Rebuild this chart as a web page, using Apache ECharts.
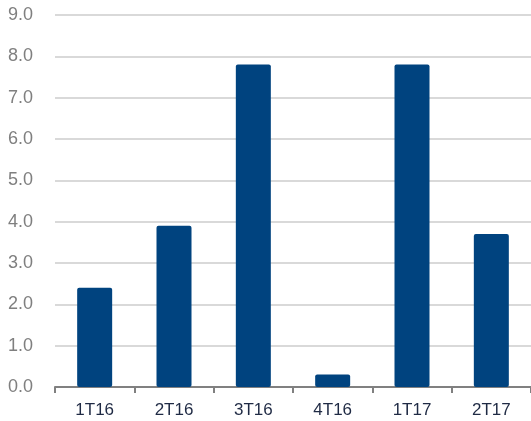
<!DOCTYPE html>
<html><head><meta charset="utf-8">
<script src="https://cdn.jsdelivr.net/npm/echarts@6/dist/echarts.min.js"></script>
<style>html,body{margin:0;padding:0;background:#fff}#c{width:531px;height:421px}</style>
</head><body><div id="c"></div>
<script>
var categories = ['1T16','2T16','3T16','4T16','1T17','2T17'];
var values = [2.4, 3.9, 7.8, 0.3, 7.8, 3.7];
var chart = echarts.init(document.getElementById('c'), null, {renderer:'canvas'});
chart.setOption({
  animation:false,
  grid:{left:55,right:0,top:15,bottom:34},
  xAxis:{type:'category',data:categories,
    axisLine:{lineStyle:{color:'#808080',width:2}},
    axisTick:{show:true,length:6,lineStyle:{color:'#808080',width:2}},
    axisLabel:{color:'#1f2a44',fontSize:17,fontFamily:'Liberation Sans, Arial',margin:15}},
  yAxis:{type:'value',min:0,max:9,interval:1,
    axisLine:{show:false},axisTick:{show:false},
    splitLine:{lineStyle:{color:'#d9d9d9',width:2}},
    axisLabel:{color:'#7f7f7f',fontSize:18,fontFamily:'Liberation Sans, Arial',margin:22,
      formatter:function(v){return v.toFixed(1);}}},
  series:[{type:'bar',data:values,barWidth:35,
    itemStyle:{color:'#00437f',borderRadius:2}}]
});
</script></body></html>
